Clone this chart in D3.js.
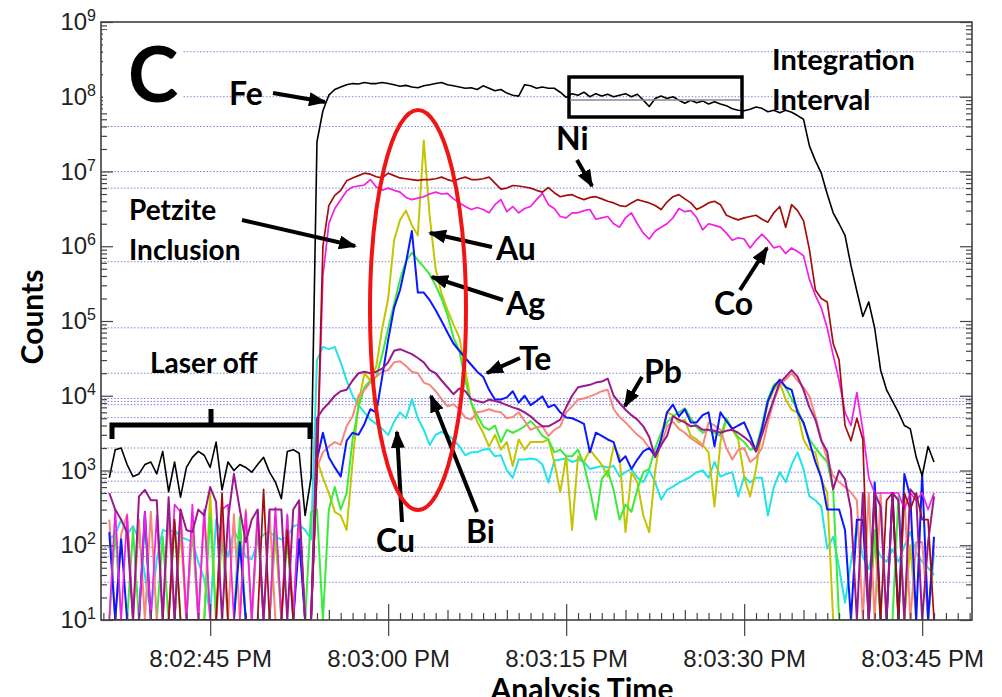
<!DOCTYPE html>
<html>
<head>
<meta charset="utf-8">
<script src="https://cdn.jsdelivr.net/npm/d3@7"></script>
<style>
    body { margin: 0; background: #fff; }
    svg { display: block; }
    .note { font-family: Lato, 'Open Sans', sans-serif; font-weight: bold; fill: #000; }
    .tick-label { font-family: 'Liberation Sans', Arial, sans-serif; fill: #222; }
</style>
</head>
<body>
<svg width="1002" height="697"></svg>
<script>
// samples every 0.5 s starting 8:02:36.5 PM
const sampleStart = new Date(2000, 0, 1, 20, 2, 36, 500);
const sampleStepMs = 500;
const axisStart = new Date(2000, 0, 1, 20, 2, 35, 800);
const axisEnd = new Date(2000, 0, 1, 20, 3, 49, 200);

const feCounts = [
    8e2, 1.9e3, 2.0e3, 1.2e3, 8.3e2, 9e2, 1.2e3, 1.3e3, 9e2, 1.8e3,
    5.2e2, 1.3e3, 4.4e2, 1.1e3, 1.5e3, 1.8e3, 1.6e3, 1.1e3, 2.4e3, 5.5e2,
    1.3e3, 1.0e3, 1.2e3, 1.1e3, 9.5e2, 1.2e3, 1.5e3, 9.5e2, 7e2, 4.2e2,
    1.8e3, 1.9e3, 1.7e3, 2.5e2, 8e2, 2.5e7, 6.5e7, 1.05e8, 1.25e8, 1.35e8,
    1.45e8, 1.5e8, 1.48e8, 1.55e8, 1.5e8, 1.5e8, 1.55e8, 1.5e8, 1.45e8, 1.38e8,
    1.42e8, 1.35e8, 1.32e8, 1.4e8, 1.45e8, 1.5e8, 1.55e8, 1.45e8, 1.4e8, 1.35e8,
    1.3e8, 1.32e8, 1.25e8, 1.4e8, 1.3e8, 1.2e8, 1.25e8, 1.12e8, 1.05e8, 1.02e8,
    1.45e8, 1.4e8, 1.3e8, 1.35e8, 1.3e8, 1.3e8, 1.15e8, 9.8e7, 1.1e8, 1.05e8,
    1.15e8, 1.0e8, 1.1e8, 1.02e8, 1.08e8, 1.0e8, 1.05e8, 1.1e8, 1.0e8, 1.08e8,
    9e7, 7.4e7, 9.5e7, 1.02e8, 9.5e7, 1.0e8, 9e7, 8.2e7, 9e7, 8.3e7,
    8.8e7, 8.0e7, 8.6e7, 8.0e7, 7.6e7, 6.9e7, 6.6e7, 6.5e7, 6.8e7, 7.3e7,
    7.0e7, 6.3e7, 6.6e7, 6.1e7, 6.6e7, 6.2e7, 5.6e7, 5.0e7, 2.2e7, 1.4e7,
    9.5e6, 5e6, 2.8e6, 2.0e6, 1.4e6, 5.5e5, 2.5e5, 1.15e5, 1.8e5, 8e4,
    2.2e4, 1.2e4, 8.5e3, 6e3, 4e3, 3.6e3, 1.5e3, 8.5e2, 2.1e3, 1.3e3
];
const niCounts = [
    10, 10, 10, 10, 10, 10, 10, 10, 10, 10,
    10, 2.2e2, 10, 10, 10, 10, 10, 10, 10, 5e2,
    10, 10, 10, 10, 10, 10, 5.6e2, 10, 10, 10,
    1.6e2, 10, 10, 10, 10, 1e3, 1.0e6, 3.5e6, 4.8e6, 5.6e6,
    7.5e6, 8.2e6, 8.8e6, 9.5e6, 9.2e6, 8.5e6, 8.2e6, 9.5e6, 8.8e6, 8.2e6,
    8.0e6, 7.8e6, 7.6e6, 7.8e6, 7.8e6, 8.0e6, 8.4e6, 7.8e6, 7.4e6, 8.0e6,
    8.4e6, 7.8e6, 7.8e6, 8.0e6, 8.4e6, 7.0e6, 5.8e6, 6.0e6, 6.5e6, 6.4e6,
    6.2e6, 6.0e6, 5.6e6, 5.3e6, 6.1e6, 5.2e6, 4.6e6, 4.8e6, 4.9e6, 4.5e6,
    4.2e6, 4.5e6, 4.6e6, 4.3e6, 4.0e6, 3.8e6, 3.5e6, 3.4e6, 3.8e6, 4.2e6,
    4.0e6, 3.8e6, 3.5e6, 3.1e6, 3.9e6, 4.6e6, 4.9e6, 4.3e6, 3.8e6, 3.1e6,
    3.4e6, 3.8e6, 4.0e6, 3.6e6, 2.6e6, 2.4e6, 2.25e6, 2.4e6, 2.5e6, 2.6e6,
    2.3e6, 2.1e6, 2.8e6, 3.4e6, 1.8e6, 3.6e6, 3.0e6, 2.2e6, 9e5, 2.6e5,
    2.0e5, 1.8e5, 5e4, 3e4, 4e3, 2.5e3, 5e3, 2.6e3, 10, 5e2,
    10, 4e2, 5e2, 10, 5e2, 3e2, 5e2, 2.2e2, 2.2e2, 10
];
const coCounts = [
    10, 3e2, 10, 2.5e2, 10, 10, 2.8e2, 10, 2.5e2, 10,
    10, 3.5e2, 2.8e2, 10, 3.5e2, 10, 3e2, 10, 10, 3e2,
    3.5e2, 10, 10, 2.8e2, 10, 3e2, 10, 10, 3.2e2, 10,
    2.6e2, 10, 3.5e2, 10, 10, 1e3, 4e5, 2.0e6, 3.2e6, 4.2e6,
    5.5e6, 6.2e6, 6.4e6, 6.6e6, 7.8e6, 6.2e6, 5.6e6, 6.0e6, 5.6e6, 5.3e6,
    4.5e6, 4.2e6, 4.4e6, 4.6e6, 5.0e6, 5.3e6, 5.0e6, 5.1e6, 4.3e6, 3.8e6,
    3.4e6, 3.1e6, 3.3e6, 3.1e6, 2.8e6, 3.6e6, 4.2e6, 2.9e6, 3.4e6, 2.8e6,
    3.2e6, 3.4e6, 4.2e6, 5.1e6, 3.6e6, 3.2e6, 2.5e6, 2.4e6, 2.8e6, 2.8e6,
    3.0e6, 3.1e6, 2.3e6, 2.4e6, 2.5e6, 2.0e6, 1.8e6, 2.4e6, 2.8e6, 2.0e6,
    1.5e6, 1.25e6, 1.6e6, 1.8e6, 2.0e6, 2.4e6, 3.2e6, 2.9e6, 3.0e6, 2.4e6,
    1.66e6, 2.0e6, 1.9e6, 1.8e6, 1.5e6, 1.2e6, 1.3e6, 1.25e6, 9.5e5, 1.2e6,
    1.45e6, 1.2e6, 9.5e5, 1.0e6, 8e5, 9.5e5, 8.5e5, 7.5e5, 3.6e5, 2.2e5,
    1.5e5, 8e4, 3.5e4, 1.6e4, 6e3, 4e3, 1.1e4, 3.5e3, 8e2, 5e2,
    5e2, 5e2, 5e2, 5e2, 3e2, 5e2, 4e2, 5e2, 3e2, 5e2
];
const auCounts = [
    10, 10, 10, 10, 10, 10, 10, 10, 10, 10,
    10, 10, 1.6e2, 10, 10, 10, 10, 5e2, 10, 10,
    10, 10, 1.5e2, 10, 10, 10, 10, 10, 1.3e2, 10,
    10, 10, 10, 10, 10, 1.4e3, 8e2, 5e2, 2.8e2, 2.5e2,
    1.6e2, 1.3e3, 8e3, 2.0e4, 1.6e4, 2.5e4, 8e4, 2.0e5, 1.2e6, 2.25e6,
    3.0e6, 1.9e6, 1.4e6, 2.6e7, 2.5e6, 5e5, 2.3e5, 1.4e5, 9e4, 6e4,
    2.2e4, 8e3, 4.5e3, 3.2e3, 2.1e3, 3.0e3, 1.9e3, 2.4e3, 1.15e3, 2.6e3,
    1.9e3, 2.4e3, 2.4e3, 2.4e3, 2.6e3, 1.3e3, 5.1e2, 1.55e3, 1.6e2, 1.55e3,
    1.3e3, 1.9e3, 1.5e3, 1.2e3, 8.3e2, 2.1e3, 1.55e3, 1.5e2, 9.5e2, 6.9e2,
    2.5e2, 1.5e2, 1.0e3, 3.0e3, 6.0e3, 5.5e3, 4.4e3, 4.8e3, 2.9e3, 2.6e3,
    2.2e3, 1.75e3, 3.3e2, 2.4e3, 4.8e3, 3.5e3, 2.6e3, 8.3e2, 4.5e2, 1.05e3,
    3.5e3, 8e3, 1.2e4, 1.5e4, 8.9e3, 6.5e3, 6e3, 2.6e3, 1.9e3, 1.75e3,
    7.5e2, 5.1e2, 10, 10, 10, 10, 10, 10, 10, 1.2e2,
    10, 10, 10, 10, 10, 1.0e2, 10, 10, 10, 10
];
const agCounts = [
    10, 1.6e2, 10, 10, 1.6e2, 10, 2.2e2, 10, 10, 1.3e2,
    10, 2e2, 10, 10, 1.6e2, 10, 10, 2.6e2, 10, 1.3e2,
    10, 10, 2.4e2, 10, 10, 1.9e2, 10, 10, 2.3e2, 10,
    1.2e2, 10, 2.5e2, 10, 2.8e2, 3e2, 10, 3e2, 6e2, 3e2,
    5e2, 2.6e3, 7e3, 1.3e4, 1.6e4, 1.8e4, 3.5e4, 8e4, 1.7e5, 3.6e5,
    6.3e5, 8.2e5, 6.5e5, 5.3e5, 4.2e5, 3.0e5, 2.0e5, 1.2e5, 6e4, 4e4,
    1.6e4, 8e3, 5.5e3, 3.9e3, 3.5e3, 4.0e3, 2.4e3, 3.5e3, 3.2e3, 3.5e3,
    3.9e3, 4.6e3, 3.8e3, 2.9e3, 2.6e3, 1.75e3, 1.9e3, 1.55e3, 1.55e3, 1.9e3,
    1.2e3, 5.5e2, 2.2e2, 7.6e2, 1.0e3, 5.5e2, 2.2e2, 3.5e2, 2.8e2, 5.6e2,
    9.5e2, 1.05e3, 2.0e3, 3.2e3, 4.4e3, 5.3e3, 6e3, 6.8e3, 5.0e3, 3.8e3,
    3.2e3, 3.5e3, 3.2e3, 2.9e3, 5.0e3, 3.6e3, 2.8e3, 2.4e3, 1.9e3, 2.0e3,
    4.0e3, 9e3, 1.4e4, 1.6e4, 1.3e4, 9e3, 6.5e3, 4.2e3, 2.6e3, 2.0e3,
    1.6e3, 1.3e3, 5.6e2, 10, 10, 10, 10, 10, 10, 1.6e2,
    10, 10, 10, 4.5e2, 10, 10, 10, 10, 10, 8e1
];
const teCounts = [
    1.5e2, 10, 1.2e2, 10, 10, 10, 2.8e2, 10, 10, 10,
    10, 10, 10, 10, 10, 10, 10, 10, 10, 10,
    10, 10, 1.1e2, 10, 10, 10, 10, 10, 10, 10,
    10, 10, 1.2e2, 10, 10, 1.4e3, 3.2e3, 1.5e3, 1.1e3, 8.3e2,
    2.5e3, 3.2e3, 3.0e3, 4.2e3, 6.6e3, 6e3, 1.8e4, 5.6e4, 1.5e5, 2.6e5,
    6e5, 1.6e6, 2.4e5, 2.4e5, 1.9e5, 1.4e5, 1.0e5, 7e4, 5e4, 4e4,
    3.2e4, 2.6e4, 2.1e4, 1.8e4, 1.2e4, 8.9e3, 8.9e3, 9.5e3, 1.15e4, 8.1e3,
    1.0e4, 7.5e3, 8.5e3, 9.8e3, 7e3, 7.6e3, 6e3, 5.1e3, 5.0e3, 4.6e3,
    4.2e3, 1.75e3, 3.2e3, 2.9e3, 2.6e3, 2.4e3, 1.3e3, 1.55e3, 1.05e3, 1.4e3,
    1.8e3, 2.0e3, 1.55e3, 2.6e3, 6e3, 7.6e3, 5.3e3, 6.6e3, 4.4e3, 4.4e3,
    5.5e3, 6e3, 2.1e3, 6.0e3, 4.6e3, 3.6e3, 4.0e3, 4.4e3, 2.9e3, 1.8e3,
    3.6e3, 8.5e3, 1.3e4, 1.65e4, 1.3e4, 1.2e4, 6e3, 4.4e3, 2.4e3, 1.3e3,
    8e2, 3e2, 3e2, 3e2, 1.6e2, 10, 2.2e2, 2.2e2, 10, 6.9e2,
    10, 10, 5e2, 10, 9e2, 4.5e2, 10, 9e2, 10, 1.3e2
];
const pbCounts = [
    5e2, 3e2, 2.2e2, 1.5e2, 10, 4.5e2, 5.5e2, 4e2, 4e2, 10,
    4.4e2, 10, 3e2, 1.6e2, 1.5e2, 3e2, 2.5e2, 6e2, 3.8e2, 10,
    2.2e2, 9e2, 3e2, 1.1e2, 2.2e2, 3e2, 10, 3e2, 3e2, 3e2,
    10, 3e2, 4e2, 10, 10, 5e3, 6.6e3, 8e3, 1.0e4, 1.15e4,
    1.2e4, 1.6e4, 2.0e4, 2.1e4, 2.0e4, 2.1e4, 2.3e4, 2.8e4, 4.0e4, 4.2e4,
    3.9e4, 3.6e4, 3.2e4, 2.8e4, 2.2e4, 2.0e4, 1.6e4, 1.3e4, 1.05e4, 1.25e4,
    1.15e4, 9e3, 8.5e3, 8.1e3, 8.9e3, 8.5e3, 8.1e3, 7.5e3, 7e3, 6.6e3,
    6e3, 5.3e3, 4.5e3, 3.9e3, 3.9e3, 4.3e3, 4.8e3, 7e3, 1.0e4, 1.3e4,
    1.35e4, 1.4e4, 1.5e4, 1.55e4, 1.7e4, 1.0e4, 8e3, 6.5e3, 5.5e3, 4.8e3,
    3.9e3, 2.8e3, 1.5e3, 2.2e3, 2.9e3, 5.3e3, 4.8e3, 4.4e3, 3.9e3, 4.0e3,
    3.5e3, 3.5e3, 3.4e3, 3.2e3, 3.4e3, 3.5e3, 3.2e3, 2.8e3, 2.4e3, 1.8e3,
    3.0e3, 5.3e3, 9e3, 1.5e4, 1.8e4, 2.2e4, 1.8e4, 1.2e4, 7e3, 4.8e3,
    2.5e3, 1.8e3, 5.6e2, 1.0e3, 7.6e2, 3.0e2, 10, 5e2, 10, 5e2,
    3.3e2, 10, 5e2, 4e2, 10, 5.6e2, 4.5e2, 10, 1.1e2, 4.5e2
];
const biCounts = [
    2.2e2, 10, 1.4e2, 2.6e2, 10, 2.2e2, 10, 2.8e2, 10, 10,
    2.5e2, 10, 3e2, 10, 2.4e2, 10, 2.8e2, 10, 10, 2.2e2,
    10, 2.6e2, 10, 3e2, 10, 2.3e2, 10, 2.8e2, 10, 10,
    2.5e2, 10, 2.2e2, 10, 10, 1.1e3, 1.75e3, 2.1e3, 2.4e3, 2.2e3,
    3.9e3, 5.3e3, 1.0e4, 1.2e4, 1.5e4, 1.8e4, 2.1e4, 2.2e4, 2.8e4, 2.9e4,
    2.5e4, 2.1e4, 2.0e4, 1.5e4, 1.4e4, 1.15e4, 9e3, 7.2e3, 7.7e3, 6.6e3,
    5.1e3, 4.8e3, 6e3, 6.2e3, 6.6e3, 6.2e3, 6e3, 5.0e3, 5.2e3, 6e3,
    4.6e3, 3.5e3, 3.8e3, 3.9e3, 2.9e3, 3.5e3, 3.9e3, 6e3, 7.2e3, 8.9e3,
    9.2e3, 9.8e3, 1.05e4, 1.15e4, 1.2e4, 6.6e3, 5.2e3, 4.4e3, 3.6e3, 3.0e3,
    2.6e3, 2.0e3, 1.75e3, 2.1e3, 3.9e3, 4.5e3, 3.6e3, 3.2e3, 2.7e3, 2.4e3,
    2.1e3, 4.4e3, 4.0e3, 3.5e3, 2.0e3, 1.4e3, 1.9e3, 2.0e3, 1.3e3, 1.5e3,
    2.0e3, 4.4e3, 8.5e3, 1.4e4, 1.65e4, 2.0e4, 1.6e4, 1.3e4, 9.8e3, 5.3e3,
    2.6e3, 1.4e3, 8.5e2, 7e2, 6e2, 5.1e2, 4e2, 10, 5e2, 10,
    5e2, 10, 5e2, 10, 5e2, 10, 1.1e2, 1.1e2, 10, 1.0e2
];
const cuCounts = [
    1.2e2, 1.4e2, 2.2e2, 1.4e2, 1.8e2, 1.2e2, 4e1, 12, 6.5e1, 1.6e2,
    1.5e2, 1.6e2, 1.3e2, 1.2e2, 1.1e2, 6e1, 3.5e1, 12, 2.2e2, 1.3e2,
    7e1, 1.6e2, 1.1e2, 7e1, 6.5e1, 1.1e2, 1.4e2, 1.5e2, 1.3e2, 1.2e2,
    1.3e2, 1.8e2, 1.9e2, 1.6e2, 1.2e2, 3e4, 4.5e4, 4.2e4, 4.5e4, 2.8e4,
    1.6e4, 1.0e4, 7.5e3, 6e3, 4.8e3, 4.2e3, 3.6e3, 3.0e3, 4.5e3, 6e3,
    5e3, 9e3, 5e3, 3.5e3, 2.2e3, 3.0e3, 3.3e3, 3.0e3, 2.6e3, 2.1e3,
    1.6e3, 1.75e3, 1.75e3, 1.9e3, 1.95e3, 1.55e3, 1.6e3, 1.0e3, 8e2, 1.4e3,
    1.4e3, 1.45e3, 1.4e3, 1.2e3, 6.9e2, 1.35e3, 1.4e3, 1.45e3, 1.3e3, 1.4e3,
    1.3e3, 1.05e3, 1.1e3, 1.15e3, 1.1e3, 1.15e3, 8.3e2, 9.5e2, 1.05e3, 8e2,
    7e2, 1.0e3, 7e2, 4.1e2, 5.5e2, 6.1e2, 6.9e2, 7.5e2, 8.3e2, 9.5e2,
    1.0e3, 8e2, 1.3e3, 8.3e2, 9e2, 9.5e2, 4.5e2, 8.3e2, 6.9e2, 8e2,
    8e2, 2.5e2, 6e2, 9.5e2, 7e2, 1.2e3, 1.75e3, 1.05e3, 4.5e2, 4e2,
    3.3e2, 9e1, 1.3e2, 5e1, 1.7e1, 6e1, 1.8e2, 7e1, 4.8e1, 1.1e2,
    7.1e1, 6e1, 8.9e1, 6e1, 9.8e1, 1.5e2, 8e1, 6e1, 5e1, 4e1
];

// dotted reference lines across the plot (counts)
const gridCounts = [4e8, 1e8, 4e7, 1e7, 6e6, 6.2e5, 8.1e4, 2e4, 9.2e3, 8.4e3, 7.6e3,
    5.1e3, 2.0e3, 9.5e2, 7.2e2, 5.1e2, 9.4e1, 7.1e1, 3.2e1];

const series = [
    { name: 'Cu', values: cuCounts, color: '#22e4e8', width: 2 },
    { name: 'Au', values: auCounts, color: '#c4c400', width: 2 },
    { name: 'Ag', values: agCounts, color: '#3cea3c', width: 2 },
    { name: 'Bi', values: biCounts, color: '#f5877c', width: 2 },
    { name: 'Te', values: teCounts, color: '#0a18ff', width: 2 },
    { name: 'Co', values: coCounts, color: '#f21ee6', width: 1.7 },
    { name: 'Ni', values: niCounts, color: '#a30d0d', width: 1.7 },
    { name: 'Pb', values: pbCounts, color: '#991a8c', width: 2 },
    { name: 'Fe', values: feCounts, color: '#000000', width: 1.6 }
];

const width = 1002;
const height = 697;
const plot = { left: 101, right: 972, top: 22, bottom: 620 };
const svg = d3.select('svg');

const xScale = d3.scaleTime()
    .domain([axisStart, axisEnd])
    .range([plot.left, plot.right]);
const yScale = d3.scaleLog()
    .domain([10, 1e9])
    .range([plot.bottom, plot.top])
    .clamp(true);

svg.append('defs').append('clipPath')
    .attr('id', 'plot-clip')
    .append('rect')
    .attr('x', plot.left)
    .attr('y', plot.top)
    .attr('width', plot.right - plot.left)
    .attr('height', plot.bottom - plot.top);

// Gridlines
svg.append('g')
    .selectAll('line')
    .data(gridCounts)
    .join('line')
    .attr('x1', plot.left)
    .attr('x2', plot.right)
    .attr('y1', d => yScale(d))
    .attr('y2', d => yScale(d))
    .attr('stroke', '#6a6ad8')
    .attr('stroke-width', 1)
    .attr('stroke-dasharray', '1.5,1.8')
    .attr('opacity', 0.85);

// Lines
const line = d3.line()
    .x((d, i) => xScale(new Date(+sampleStart + i * sampleStepMs)))
    .y(d => yScale(d));

svg.append('g')
    .attr('clip-path', 'url(#plot-clip)')
    .selectAll('path')
    .data(series)
    .join('path')
    .attr('d', d => line(d.values))
    .attr('fill', 'none')
    .attr('stroke', d => d.color)
    .attr('stroke-width', d => d.width)
    .attr('stroke-linejoin', 'round');

// Frame
svg.append('rect')
    .attr('x', plot.left)
    .attr('y', plot.top)
    .attr('width', plot.right - plot.left)
    .attr('height', plot.bottom - plot.top)
    .attr('fill', 'none')
    .attr('stroke', '#333')
    .attr('stroke-width', 1.5);

// Y axis ticks (inside, both sides)
const allY = yScale.ticks();
const decades = allY.filter(d => Math.abs(Math.log10(d) - Math.round(Math.log10(d))) < 1e-9);
const minorY = allY.filter(d => !decades.includes(d));

function yTicks(axisFn, xPos, values, size) {
    const g = svg.append('g')
        .attr('transform', `translate(${xPos}, 0)`)
        .call(axisFn(yScale).tickValues(values).tickSize(size).tickFormat(''));
    g.select('.domain').remove();
    g.selectAll('line').attr('stroke', '#444').attr('stroke-width', 1.2);
}
yTicks(d3.axisRight, plot.left, minorY, 6);
yTicks(d3.axisRight, plot.left, decades, 12);
yTicks(d3.axisLeft, plot.right, minorY, 6);
yTicks(d3.axisLeft, plot.right, decades, 12);

// Y labels 10^n
const yLabels = svg.append('g');
decades.forEach(d => {
    const t = yLabels.append('text')
        .attr('class', 'tick-label')
        .attr('x', 96)
        .attr('y', yScale(d) + 8)
        .style('text-anchor', 'end')
        .style('font-size', '24px');
    t.append('tspan').text('10');
    t.append('tspan')
        .text(Math.round(Math.log10(d)))
        .attr('dy', -9)
        .style('font-size', '16px');
});

// X axis ticks
const secTicks = xScale.ticks(d3.timeSecond.every(1));
const minorX = secTicks.filter(d => d.getSeconds() % 5 !== 0);
const fiveX = secTicks.filter(d => d.getSeconds() % 5 === 0 && d.getSeconds() % 15 !== 0);
const majorX = secTicks.filter(d => d.getSeconds() % 15 === 0);

function xTicks(axisFn, values, size) {
    const g = svg.append('g')
        .attr('transform', `translate(0, ${plot.bottom})`)
        .call(axisFn(xScale).tickValues(values).tickSize(size).tickFormat(''));
    g.select('.domain').remove();
    g.selectAll('line').attr('stroke', '#444').attr('stroke-width', 1.2);
    return g;
}
xTicks(d3.axisTop, minorX, 7);
xTicks(d3.axisTop, fiveX, 10);
xTicks(d3.axisTop, majorX, 16);
const xMajor = svg.append('g')
    .attr('transform', `translate(0, ${plot.bottom})`)
    .call(d3.axisBottom(xScale).tickValues(majorX).tickSize(16)
        .tickFormat(d3.timeFormat('%-I:%M:%S %p')));
xMajor.select('.domain').remove();
xMajor.selectAll('line').attr('stroke', '#444').attr('stroke-width', 1.2);
xMajor.selectAll('text')
    .attr('class', 'tick-label')
    .attr('y', 47)
    .attr('dy', 0)
    .attr('fill', '#222')
    .style('font-size', '24px');

// Axis titles
svg.append('text')
    .attr('class', 'note')
    .text('Counts')
    .attr('transform', 'translate(43, 317) rotate(-90)')
    .style('text-anchor', 'middle')
    .style('font-size', '30px');
svg.append('text')
    .attr('class', 'note')
    .text('Analysis Time')
    .attr('x', 582)
    .attr('y', 700)
    .style('text-anchor', 'middle')
    .style('font-size', '30px');

// Annotations
const ann = svg.append('g');
ann.append('rect')
    .attr('x', 103).attr('y', 30).attr('width', 79).attr('height', 80)
    .attr('fill', '#fff');

const marker = svg.select('defs').append('marker')
    .attr('id', 'arrow')
    .attr('markerUnits', 'userSpaceOnUse')
    .attr('markerWidth', 18)
    .attr('markerHeight', 14)
    .attr('refX', 16)
    .attr('refY', 7)
    .attr('orient', 'auto');
marker.append('path').attr('d', 'M0,0 L18,7 L0,14 Z').attr('fill', '#000');

const arrows = [
    [273, 93, 325, 102],
    [242, 220, 355, 246],
    [492, 247, 430, 233],
    [503, 300, 432, 277],
    [577, 160, 592, 186],
    [520, 358, 487, 373],
    [642, 377, 625, 406],
    [740, 290, 767, 248],
    [402, 522, 397, 432],
    [477, 512, 431, 396]
];
ann.selectAll('line.arrow')
    .data(arrows)
    .join('line')
    .attr('class', 'arrow')
    .attr('x1', d => d[0]).attr('y1', d => d[1])
    .attr('x2', d => d[2]).attr('y2', d => d[3])
    .attr('stroke', '#000')
    .attr('stroke-width', 4)
    .attr('marker-end', 'url(#arrow)');

// Petzite inclusion ellipse
ann.append('ellipse')
    .attr('cx', 418).attr('cy', 310).attr('rx', 48).attr('ry', 200)
    .attr('fill', 'none').attr('stroke', '#f01414').attr('stroke-width', 4);

// Integration interval box
ann.append('rect')
    .attr('x', 569).attr('y', 77).attr('width', 173).attr('height', 40)
    .attr('fill', 'none').attr('stroke', '#000').attr('stroke-width', 3.5);
ann.append('line')
    .attr('x1', 570).attr('x2', 741).attr('y1', 100).attr('y2', 100)
    .attr('stroke', '#888').attr('stroke-width', 1.5);

// Laser off bracket
ann.append('path')
    .attr('d', 'M112,439 L112,425 L310,425 L310,439 M211,425 L211,409')
    .attr('fill', 'none').attr('stroke', '#000').attr('stroke-width', 5);

const notes = [
    { text: 'C', x: 128, y: 102, size: 76 },
    { text: 'Fe', x: 229, y: 105, size: 32 },
    { text: 'Integration', x: 772, y: 70, size: 29 },
    { text: 'Interval', x: 772, y: 110, size: 29 },
    { text: 'Ni', x: 556, y: 150, size: 32 },
    { text: 'Petzite', x: 129, y: 220, size: 28 },
    { text: 'Inclusion', x: 129, y: 260, size: 28 },
    { text: 'Au', x: 496, y: 260, size: 32 },
    { text: 'Ag', x: 506, y: 315, size: 32 },
    { text: 'Co', x: 714, y: 315, size: 32 },
    { text: 'Te', x: 519, y: 370, size: 32 },
    { text: 'Pb', x: 644, y: 383, size: 32 },
    { text: 'Laser off', x: 150, y: 373, size: 28 },
    { text: 'Cu', x: 376, y: 552, size: 32 },
    { text: 'Bi', x: 466, y: 543, size: 32 }
];
ann.selectAll('text')
    .data(notes)
    .join('text')
    .attr('class', 'note')
    .text(d => d.text)
    .attr('x', d => d.x)
    .attr('y', d => d.y)
    .style('font-size', d => d.size + 'px');
</script>
</body>
</html>
